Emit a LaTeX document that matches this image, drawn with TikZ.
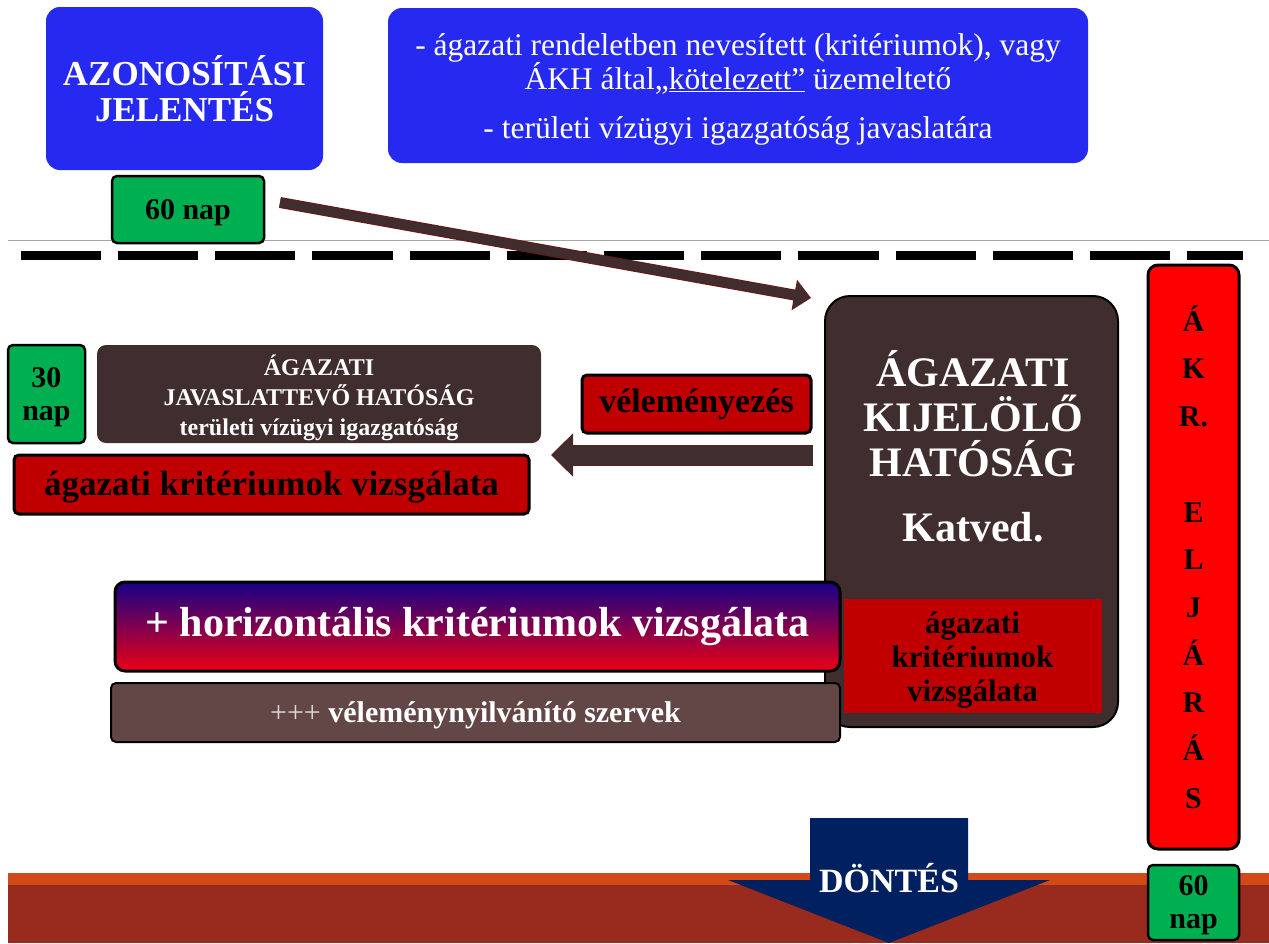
\documentclass[tikz,border=0pt]{standalone}
\usepackage{fontspec}
\setmainfont{Liberation Serif}
\usetikzlibrary{arrows.meta,calc,positioning}

\definecolor{kekdoboz}{RGB}{38,42,240}
\definecolor{zold}{RGB}{0,176,80}
\definecolor{sotetpiros}{RGB}{192,0,0}
\definecolor{piros}{RGB}{255,0,0}
\definecolor{barna}{RGB}{64,45,46}
\definecolor{szurkebarna}{RGB}{99,71,71}
\definecolor{nyilszel}{RGB}{95,30,30}
\definecolor{sotetkek}{RGB}{0,32,96}
\definecolor{savnarancs}{RGB}{210,74,24}
\definecolor{savvoros}{RGB}{153,43,30}
\definecolor{gradfelso}{RGB}{22,0,135}
\definecolor{gradkozep}{RGB}{115,0,120}
\definecolor{gradalso}{RGB}{235,0,20}
\definecolor{halvany}{RGB}{225,215,215}

\newcommand{\fs}[2]{\fontsize{#1}{#2}\selectfont}

\begin{document}
\begin{tikzpicture}[x=1pt,y=-1pt,
	doboz/.style={rectangle,inner sep=0pt,outer sep=0pt,align=center},
	kek/.style={doboz,fill=kekdoboz,rounded corners=14pt,text=white},
	nap/.style={doboz,fill=zold,draw=black,line width=2.5pt,rounded corners=5pt},
	napszoveg/.style={doboz,font=\bfseries\fs{30}{33}},
	pirosdoboz/.style={doboz,fill=sotetpiros,draw=black,line width=3pt,rounded corners=5pt,font=\bfseries},
	nyilkulso/.style={draw=nyilszel,line width=#1},
	nyilbelso/.style={draw=barna,line width=#1,shorten >=1.5pt},
]
	\useasboundingbox (0,0) rectangle (1269,943);

	% also sav
	\fill[savnarancs] (8,873) rectangle (1269,943);
	\fill[savvoros] (8,885) rectangle (1269,943);

	% elvalaszto vonalak
	\draw[gray!70,line width=1pt] (8,240) -- (1269,240);
	\draw[black,line width=9pt,dash pattern=on 80.3pt off 16.9pt] (20.7,255) -- (1243,255);

	% felso sor
	\node[kek,minimum width=277,minimum height=163,font=\bfseries\fs{35}{36}] (azon) at (184.5,88.5) {AZONOSÍTÁSI\\JELENTÉS};
	\node[kek,minimum width=700,minimum height=155] (kotelezett) at (738,85.5) {};
	\node[doboz,text=white,font=\fs{31.5}{31}] (kotelezetttxt) at ([yshift=-4pt]kotelezett.center)
		{- ágazati rendeletben nevesített (kritériumok), vagy\\ÁKH által„\underline{kötelezett”} üzemeltető\\[18pt]- területi vízügyi igazgatóság javaslatára};
	\node[nap,minimum width=152,minimum height=67] (nap1) at (188,209.5) {};
	\node[napszoveg] (nap1txt) at ([yshift=-3pt]nap1.center) {60 nap};

	% kijelolo hatosag
	\node[doboz,fill=barna,draw=black,line width=2pt,rounded corners=25pt,minimum width=293,minimum height=431] (kijelolo) at (971.5,511.5) {};
	\node[doboz,text=white,font=\bfseries\fs{42}{45}] (kijtxt) at (973,446) {ÁGAZATI\\KIJELÖLŐ\\HATÓSÁG\\[20pt]Katved.};
	\node[doboz,fill=sotetpiros,draw=black!80,line width=1pt,minimum width=259,minimum height=115] (kijkrit) at (972.5,655.5) {};
	\node[doboz,font=\bfseries\fs{31}{34}] (kijkrittxt) at ([yshift=-5pt]kijkrit.center) {ágazati\\kritériumok\\vizsgálata};

	% javaslattevo
	\node[nap,minimum width=77,minimum height=98] (nap30) at (46.5,394) {};
	\node[napszoveg] (nap30txt) at ([yshift=-3pt]nap30.center) {30\\nap};
	\node[doboz,fill=barna,rounded corners=9pt,minimum width=444,minimum height=98] (javaslat) at (319,394) {};
	\node[doboz,text=white,font=\bfseries\fs{24}{30}] (javaslattxt) at ([yshift=-4pt]javaslat.center)
		{ÁGAZATI\\JAVASLATTEVŐ HATÓSÁG\\területi vízügyi igazgatóság};
	\node[pirosdoboz,minimum width=515,minimum height=59] (agkrit) at (271.5,484.5) {};
	\node[doboz,font=\bfseries\fs{35}{38}] (agkrittxt) at ([yshift=-3pt]agkrit.center) {ágazati kritériumok vizsgálata};
	\node[pirosdoboz,minimum width=229,minimum height=58,font=\bfseries\fs{34}{36}] (velem) at (696.5,404) {véleményezés};

	% horizontalis
	\node[doboz,top color=gradfelso,middle color=gradkozep,bottom color=gradalso,draw=black,line width=3pt,rounded corners=10pt,
		minimum width=725,minimum height=89,text=white,font=\bfseries\fs{42}{44}] (horiz) at (477.5,626.5) {+ horizontális kritériumok vizsgálata};
	\node[doboz,fill=szurkebarna,draw=black,line width=2pt,rounded corners=5pt,minimum width=729,minimum height=59] (szervek) at (475.5,712.5) {};
	\node[doboz,text=white,font=\bfseries\fs{30}{32}] (szervektxt) at ([yshift=-3pt]szervek.center)
		{\textcolor{halvany}{\mdseries +++} véleménynyilvánító szervek};

	% akr eljaras
	\node[doboz,fill=piros,draw=black,line width=3pt,rounded corners=10pt,minimum width=91,minimum height=584,font=\bfseries\fs{30}{47.7}] (akr) at (1193.5,557)
		{Á\\K\\R.\\[47.7pt]E\\L\\J\\Á\\R\\Á\\S};
	\node[nap,minimum width=91,minimum height=75] (nap60) at (1193.5,902.5) {};
	\node[napszoveg] (nap60txt) at ([yshift=-3pt]nap60.center) {60\\nap};

	% nyilak
	\draw[nyilkulso=11pt,-{Triangle[length=17pt,width=30pt]}] ($(nap1.east)+(16,-7)$) -- ($(kijelolo.north west)+(-14,2)$);
	\draw[nyilbelso=8pt,-{Triangle[length=14pt,width=25pt]}] ($(nap1.east)+(16,-7)$) -- ($(kijelolo.north west)+(-14,2)$);
	\draw[nyilkulso=21pt,-{Triangle[length=22pt,width=42pt]}] ($(kijelolo.west)+(-12,-56.5)$) -- ($(javaslat.south east)+(10,12)$);
	\draw[nyilbelso=19pt,-{Triangle[length=20pt,width=38pt]}] ($(kijelolo.west)+(-12,-56.5)$) -- ($(javaslat.south east)+(10,12)$);

	% dontes
	\fill[sotetkek] (810,818) -- (968,818) -- (968,880) -- (1050,880) -- (889,943) -- (728,880) -- (810,880) -- cycle;
	\node[doboz,text=white,font=\bfseries\fs{34}{36}] (dontes) at (889,878) {DÖNTÉS};
\end{tikzpicture}
\end{document}
